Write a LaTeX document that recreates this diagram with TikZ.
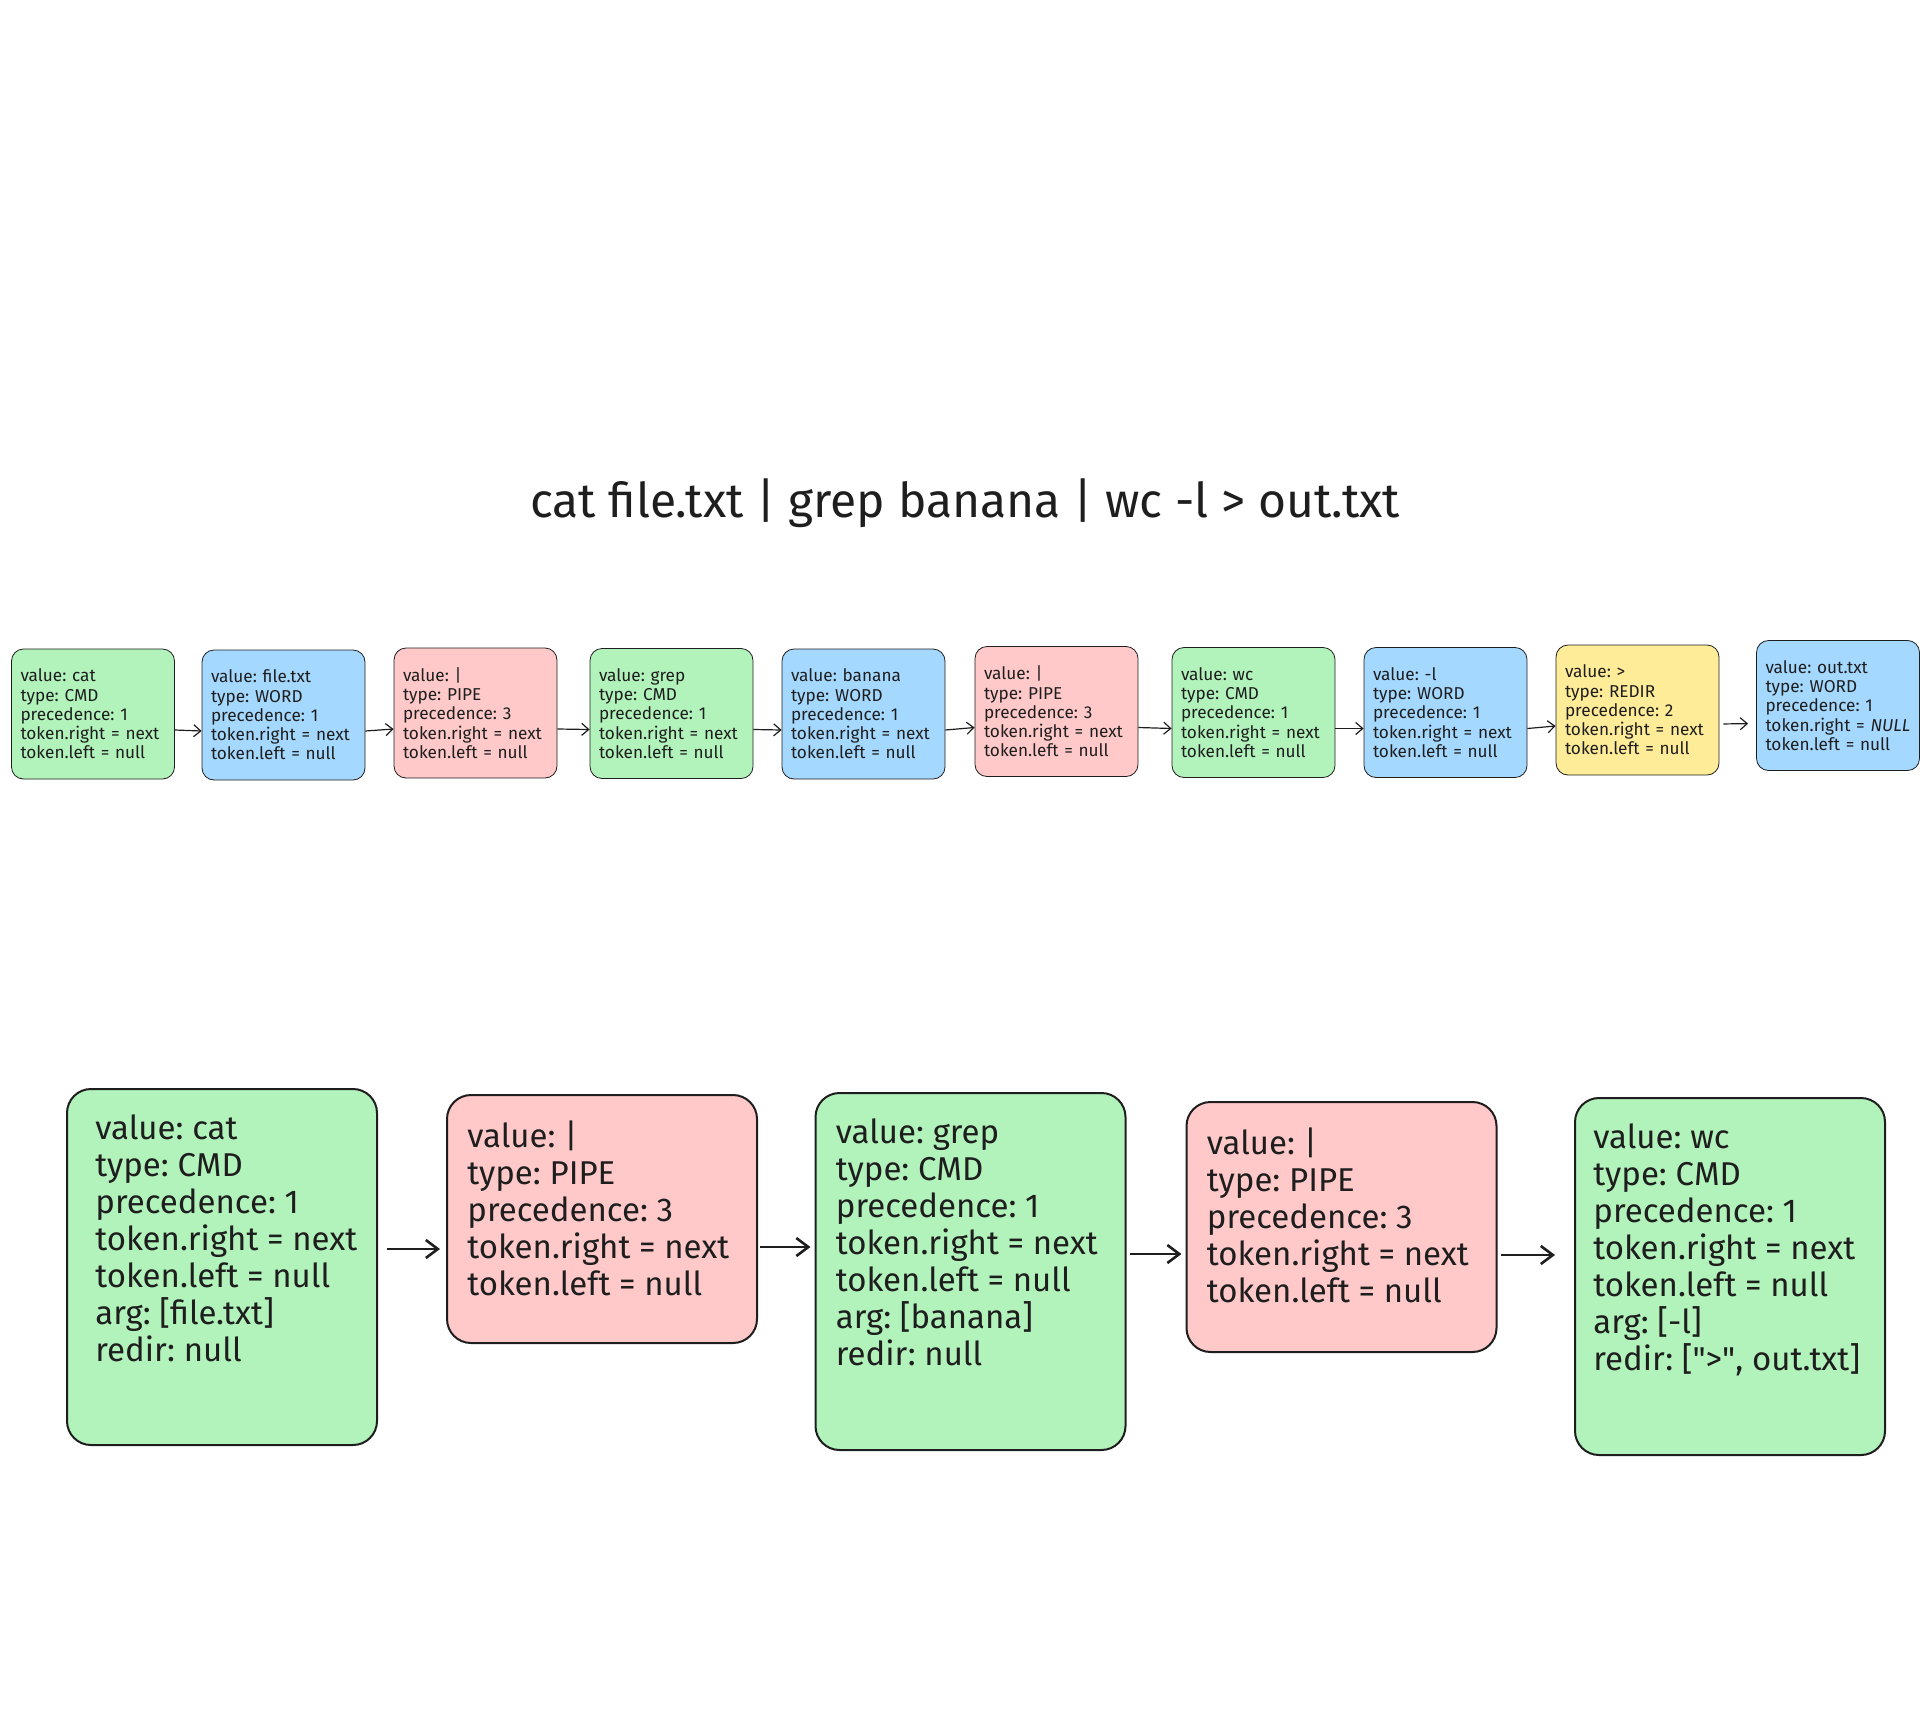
\documentclass[tikz,border=0pt]{standalone}
\usepackage{fontspec}
\setmainfont{Fira Sans}
\frenchspacing
\usetikzlibrary{arrows.meta}
\definecolor{cmdgreen}{HTML}{B2F2BB}
\definecolor{wordblue}{HTML}{A5D8FF}
\definecolor{pipered}{HTML}{FFC9C9}
\definecolor{rediryellow}{HTML}{FFEC99}
\definecolor{inkgray}{HTML}{1E1E1E}
\begin{document}
\begin{tikzpicture}[x=0.5pt, y=-0.5pt]
		\useasboundingbox (0,0) rectangle (1920,1728);
		\node[text=inkgray, font=\fontsize{24pt}{28pt}\selectfont] (title) at (965,503) {cat file.txt | grep banana | wc -l > out.txt};
		% tokens
		\begin{scope}[every node/.style={draw=inkgray, rounded corners=6pt, minimum width=81.5pt, minimum height=65pt, text width=72.5pt, inner xsep=4.5pt, align=left, text=inkgray, font=\fontsize{8.6pt}{9.6pt}\selectfont}]
			\node[fill=cmdgreen] (T1) at (93,714) {value: cat\\type: CMD\\precedence: 1\\token.right = next\\token.left = null};
			\node[fill=wordblue] (T2) at (283.5,715) {value: file.txt\\type: WORD\\precedence: 1\\token.right = next\\token.left = null};
			\node[fill=pipered] (T3) at (475.5,713) {value: |\\type: PIPE\\precedence: 3\\token.right = next\\token.left = null};
			\node[fill=cmdgreen] (T4) at (671.5,713.5) {value: grep\\type: CMD\\precedence: 1\\token.right = next\\token.left = null};
			\node[fill=wordblue] (T5) at (863.5,714) {value: banana\\type: WORD\\precedence: 1\\token.right = next\\token.left = null};
			\node[fill=pipered] (T6) at (1056.5,711.5) {value: |\\type: PIPE\\precedence: 3\\token.right = next\\token.left = null};
			\node[fill=cmdgreen] (T7) at (1253.5,712.5) {value: wc\\type: CMD\\precedence: 1\\token.right = next\\token.left = null};
			\node[fill=wordblue] (T8) at (1445.5,712.5) {value: -l\\type: WORD\\precedence: 1\\token.right = next\\token.left = null};
			\node[fill=rediryellow] (T9) at (1637.5,710) {value: >\\type: REDIR\\precedence: 2\\token.right = next\\token.left = null};
			\node[fill=wordblue] (T10) at (1838,705.5) {value: out.txt\\type: WORD\\precedence: 1\\token.right = \textit{NULL}\\token.left = null};
		\end{scope}
		\begin{scope}[every edge/.style={draw=inkgray, line width=0.6pt, -{Straight Barb[length=3.5pt,width=6pt]}}]
			\path ([yshift=-8pt]T1.east) edge ([yshift=-8pt]T2.west);
			\path ([yshift=-8pt]T2.east) edge ([yshift=-8pt]T3.west);
			\path ([yshift=-8pt]T3.east) edge ([yshift=-8pt]T4.west);
			\path ([yshift=-8pt]T4.east) edge ([yshift=-8pt]T5.west);
			\path ([yshift=-8pt]T5.east) edge ([yshift=-8pt]T6.west);
			\path ([yshift=-8pt]T6.east) edge ([yshift=-8pt]T7.west);
			\path ([yshift=-8pt]T7.east) edge ([yshift=-8pt]T8.west);
			\path ([yshift=-8pt]T8.east) edge ([yshift=-8pt]T9.west);
			\path ([yshift=-7pt]T9.east) edge[shorten <=2pt, shorten >=4pt] ([yshift=-9pt]T10.west);
		\end{scope}
		% tree nodes
		\begin{scope}[every node/.style={draw=inkgray, line width=1pt, rounded corners=12pt, minimum width=155pt}]
			\node[fill=cmdgreen, minimum height=178pt] (B1) at (222,1267) {};
			\node[fill=pipered, minimum height=124pt] (B2) at (602,1219) {};
			\node[fill=cmdgreen, minimum height=178.5pt] (B3) at (970.5,1271.5) {};
			\node[fill=pipered, minimum height=125pt] (B4) at (1341.5,1227) {};
			\node[fill=cmdgreen, minimum height=178.5pt] (B5) at (1730,1276.5) {};
		\end{scope}
		\begin{scope}[every node/.style={anchor=north west, inner sep=0pt, align=left, text=inkgray, font=\fontsize{16.5pt}{18.5pt}\selectfont}]
			\node (B1text) at ([shift={(14.5pt,-13pt)}]B1.north west) {value: cat\\type: CMD\\precedence: 1\\token.right = next\\token.left = null\\arg: [file.txt]\\redir: null};
			\node (B2text) at ([shift={(10.5pt,-13pt)}]B2.north west) {value: |\\type: PIPE\\precedence: 3\\token.right = next\\token.left = null};
			\node (B3text) at ([shift={(10.5pt,-13pt)}]B3.north west) {value: grep\\type: CMD\\precedence: 1\\token.right = next\\token.left = null\\arg: [banana]\\redir: null};
			\node (B4text) at ([shift={(10.5pt,-13pt)}]B4.north west) {value: |\\type: PIPE\\precedence: 3\\token.right = next\\token.left = null};
			\node (B5text) at ([shift={(9.5pt,-13pt)}]B5.north west) {value: wc\\type: CMD\\precedence: 1\\token.right = next\\token.left = null\\arg: [-l]\\redir: [\textquotedbl>\textquotedbl, out.txt]};
		\end{scope}
		\begin{scope}[every edge/.style={draw=inkgray, line width=1.3pt, -{Straight Barb[length=6pt,width=9pt]}}]
			\path ([yshift=9pt]B1.east) edge[shorten <=4.5pt, shorten >=3pt] ([yshift=-15pt]B2.west);
			\path ([yshift=-14pt]B2.east) edge[shorten <=1pt, shorten >=2pt] ([yshift=12.25pt]B3.west);
			\path ([yshift=8.75pt]B3.east) edge[shorten <=1.5pt, shorten >=2pt] ([yshift=-13.5pt]B4.west);
			\path ([yshift=-14pt]B4.east) edge[shorten <=1.5pt, shorten >=9.5pt] ([yshift=10.75pt]B5.west);
		\end{scope}
	\end{tikzpicture}
\end{document}
